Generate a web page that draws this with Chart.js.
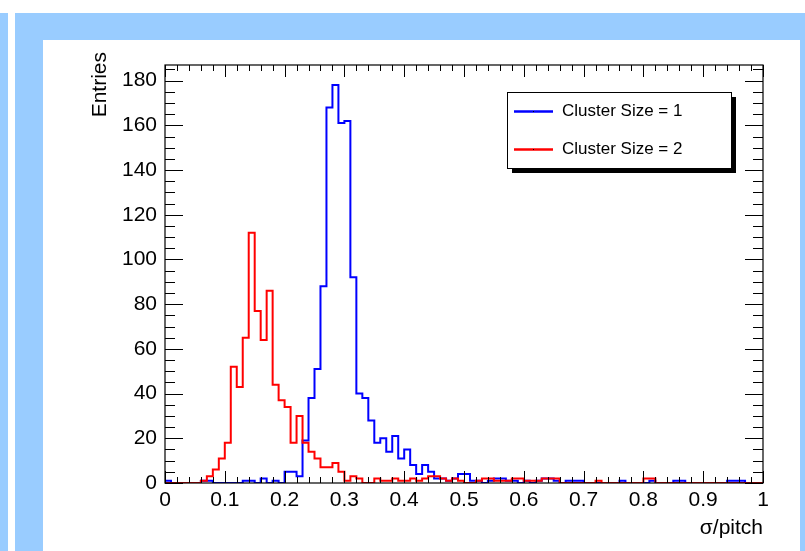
<!DOCTYPE html>
<html><head><meta charset="utf-8">
<script src="https://cdn.jsdelivr.net/npm/chart.js@4/dist/chart.umd.min.js"></script>
<style>
html,body{margin:0;padding:0;background:#fff;}
canvas{display:block;}
</style></head><body>
<canvas id="c" width="805" height="551"></canvas>
<script>
// ---- data (100 bins of width 0.01 on sigma/pitch from 0 to 1) ----
const binWidth = 0.01;
const seriesLabels = ["Cluster Size = 1", "Cluster Size = 2"];
const clusterSize1 = [
  1,0,0,0,0,0,1,1,0,0,
  0,0,0,1,1,0,2,0,1,0,
  5,5,3,19,38,51,88,168,178,161,
  162,92,40,38,28,18,20,14,21,11,
  15,8,4,8,5,2,2,1,2,4,
  4,1,1,0,1,2,2,1,1,0,
  1,0,1,2,2,1,0,1,1,1,
  0,0,0,0,0,0,1,0,0,0,
  0,1,0,0,0,1,1,0,0,0,
  0,0,0,0,1,1,1,0,0,0
];
const clusterSize2 = [
  0,0,0,0,0,0,1,3,6,11,
  18,52,43,65,112,77,64,86,44,37,
  34,18,30,18,14,11,7,7,9,5,
  1,3,2,0,0,2,1,1,2,1,
  1,2,1,2,3,3,2,1,2,1,
  0,0,1,2,2,1,1,1,2,2,
  1,1,1,2,2,2,0,0,0,0,
  0,0,1,0,0,0,0,0,0,0,
  2,2,0,0,0,0,0,0,0,0,
  0,0,0,0,0,0,0,0,0,0
];
const xTickValues = [0,0.1,0.2,0.3,0.4,0.5,0.6,0.7,0.8,0.9,1];
const yTickValues = [0,20,40,60,80,100,120,140,160,180];
const xTitle = "σ/pitch";
const yTitle = "Entries";

function stepData(vals){
  const pts = vals.map((v,i)=>({x: Math.round(i*binWidth*100)/100, y: v}));
  pts.push({x: 1, y: vals[vals.length-1]});
  return pts;
}

const FONT = "'Liberation Sans', Arial, Helvetica, sans-serif";

const bgPlugin = {
  id:'bg',
  beforeDraw(chart){
    const c = chart.ctx;
    c.save();
    c.fillStyle = '#ffffff';
    c.fillRect(0,0,chart.width,chart.height);
    c.fillStyle = '#99ccff';
    c.fillRect(0,13,8,chart.height-13);
    c.fillRect(15,13,chart.width-15,chart.height-13);
    c.fillStyle = '#ffffff';
    c.fillRect(43,40,757,chart.height-40);
    c.restore();
  }
};

const framePlugin = {
  id:'frame',
  afterDatasetsDraw(chart){
    const c = chart.ctx, a = chart.chartArea;
    const xs = chart.scales.x, ys = chart.scales.y;
    c.save();
    c.strokeStyle = '#000';
    c.lineWidth = 1.2;
    c.strokeRect(a.left, a.top, a.right-a.left, a.bottom-a.top);
    c.lineWidth = 1;
    c.beginPath();
    for (let k=0; k<=50; k++){
      const v = k*0.02;
      const px = Math.round(xs.getPixelForValue(v))+0.5;
      const L = (k%5===0) ? 12 : 6;
      c.moveTo(px, a.bottom); c.lineTo(px, a.bottom-L);
      c.moveTo(px, a.top); c.lineTo(px, a.top+L);
    }
    for (let k=0; k*5<=ys.max; k++){
      const v = k*5;
      const py = Math.round(ys.getPixelForValue(v))+0.5;
      const L = (k%4===0) ? 18 : 10;
      c.moveTo(a.left, py); c.lineTo(a.left+L, py);
      c.moveTo(a.right, py); c.lineTo(a.right-L, py);
    }
    c.stroke();
    c.restore();
  },
  afterDraw(chart){
    const c = chart.ctx;
    c.save();
    c.font = "21px " + FONT;
    c.fillStyle = '#000';
    c.translate(100, 52);
    c.rotate(-Math.PI/2);
    c.textAlign = 'right';
    c.textBaseline = 'middle';
    c.fillText(yTitle, 0, 0);
    c.restore();
    const ds = chart.data.datasets;
    const bx=507, by=92, bw=224, bh=76;
    c.save();
    c.fillStyle = '#000';
    c.fillRect(bx+5, by+5, bw, bh);
    c.fillStyle = '#fff';
    c.fillRect(bx, by, bw, bh);
    c.strokeStyle = '#000'; c.lineWidth = 1;
    c.strokeRect(bx+0.5, by+0.5, bw, bh);
    c.font = "17px " + FONT;
    c.textBaseline = 'middle';
    c.textAlign = 'left';
    const rowsY = [111.5, 149.5];
    for (let i=0;i<2;i++){
      c.strokeStyle = ds[i].borderColor; c.lineWidth = 2.5;
      c.beginPath(); c.moveTo(514, rowsY[i]); c.lineTo(553, rowsY[i]); c.stroke();
      c.fillStyle = '#000';
      c.fillRect(533, rowsY[i]-0.5, 1, 1);
      c.fillText(ds[i].label, 562, rowsY[i]);
    }
    c.restore();
  }
};

new Chart(document.getElementById('c'), {
  type:'line',
  data:{datasets:[
    {label: seriesLabels[0], data: stepData(clusterSize1), borderColor:'#0000ff', borderWidth:2, stepped:'before', pointRadius:0, fill:false, order:1},
    {label: seriesLabels[1], data: stepData(clusterSize2), borderColor:'#ff0000', borderWidth:2, stepped:'before', pointRadius:0, fill:false, order:0}
  ]},
  options:{
    responsive:false, animation:false, devicePixelRatio:1,
    layout:{padding:{left:87, top:65, right:42, bottom:10}},
    plugins:{legend:{display:false}, tooltip:{enabled:false}},
    scales:{
      x:{
        type:'linear', min:0, max:1,
        grid:{display:false, drawTicks:false}, border:{display:false},
        afterBuildTicks(s){ s.ticks = xTickValues.map(v=>({value:v})); },
        ticks:{padding:5, color:'#000', font:{family:FONT, size:21}, maxRotation:0, autoSkip:false,
          callback:(v)=> (v===0||v===1) ? String(v) : v.toFixed(1)},
        title:{display:true, text:xTitle, align:'end', color:'#000', font:{family:FONT, size:21}, padding:0},
        afterFit(s){ s.height = 58; }
      },
      y:{
        type:'linear', min:0, max:187,
        grid:{display:false, drawTicks:false}, border:{display:false},
        afterBuildTicks(s){ s.ticks = yTickValues.map(v=>({value:v})); },
        ticks:{padding:8, color:'#000', font:{family:FONT, size:21}, autoSkip:false},
        afterFit(s){ s.width = 78; }
      }
    }
  },
  plugins:[bgPlugin, framePlugin]
});
</script>
</body></html>
